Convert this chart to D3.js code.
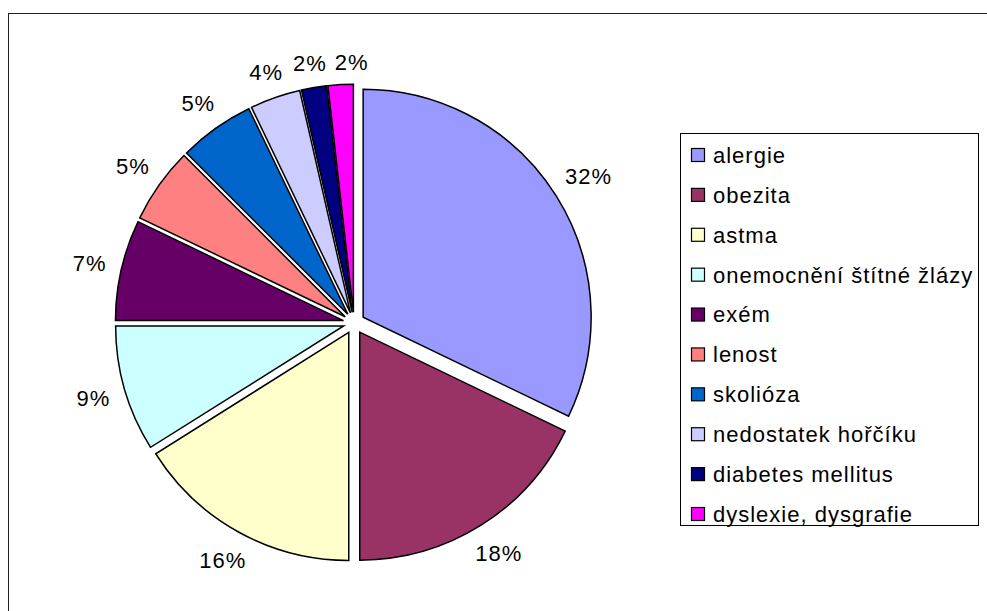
<!DOCTYPE html>
<html>
<head>
<meta charset="utf-8">
<script src="https://cdn.jsdelivr.net/npm/d3@7"></script>
<style>
  body { margin: 0; background: #fff; }
  text { font-family: "Liberation Sans", Arial, sans-serif; }
</style>
</head>
<body>
<div id="viz"></div>
<script>
// data (slice angles fit counts out of 56)
var categories = ["alergie", "obezita", "astma", "onemocnění štítné žlázy", "exém",
  "lenost", "skolióza", "nedostatek hořčíku", "diabetes mellitus", "dyslexie, dysgrafie"];
var values = [18, 10, 9, 5, 4, 3, 3, 2, 1, 1];
var colors = ["#9999FF", "#993366", "#FFFFCC", "#CCFFFF", "#660066",
  "#FF8080", "#0066CC", "#CCCCFF", "#000080", "#FF00FF"];

var width = 987, height = 611;
var cx = 354, cy = 323;
var radius = 228;
var explode = 10.8;
var labelGap = 14;

const svg = d3.select("#viz")
  .append("svg")
    .attr("width", width)
    .attr("height", height);

// outer frame (right and bottom run off the picture)
svg.append("rect")
  .attr("x", 8.5).attr("y", 13.5)
  .attr("width", 1000).attr("height", 700)
  .attr("fill", "none")
  .attr("stroke", "#222")
  .attr("stroke-width", 1);

var total = d3.sum(values);
var data = categories.map(function(c, i) { return {name: c, value: values[i], color: colors[i]}; });

const pie = d3.pie()
  .sort(null)
  .value(function(d) { return d.value; });

const arc = d3.arc().innerRadius(0).outerRadius(radius);

const g = svg.append("g")
  .attr("transform", `translate(${cx},${cy})`);

var arcs = pie(data);

function mid(d) { return (d.startAngle + d.endAngle) / 2; }

g.selectAll("path.slice")
  .data(arcs)
  .join("path")
    .attr("class", "slice")
    .attr("d", arc)
    .attr("fill", function(d) { return d.data.color; })
    .attr("stroke", "#000")
    .attr("stroke-width", 1.5)
    .attr("stroke-linejoin", "miter")
    .attr("transform", function(d) {
      var a = mid(d);
      return `translate(${explode * Math.sin(a)},${-explode * Math.cos(a)})`;
    });

// percent labels, placed just outside the slice, like Excel does
const labels = g.selectAll("text.pct")
  .data(arcs)
  .join("text")
    .attr("class", "pct")
    .attr("text-anchor", "middle")
    .attr("dy", "0.36em")
    .attr("font-size", 22)
    .attr("letter-spacing", 1)
    .attr("fill", "#000")
    .text(function(d) { return Math.round(d.value / total * 100) + "%"; });

var boxes = [];
labels.each(function(d) {
  var w = this.getComputedTextLength(), h = 16;
  var a = mid(d), s = Math.sin(a), c = Math.cos(a);
  var dist = radius + explode + labelGap + Math.abs(s) * w / 2 + Math.abs(c) * h / 2;
  var x = dist * s, y = -dist * c;
  var prev = boxes[boxes.length - 1];
  // push apart labels that would collide
  if (prev && Math.abs(y - prev.y) < h && Math.abs(x - prev.x) < (w + prev.w) / 2 + 8) {
    x = prev.x + (w + prev.w) / 2 + 8;
  }
  boxes.push({x: x, y: y, w: w});
  d3.select(this).attr("transform", `translate(${x},${y})`);
});

// legend
var legendX = 680, legendY = 133, legendW = 298, legendH = 392;
const legend = svg.append("g");
legend.append("rect")
  .attr("x", legendX + 0.5).attr("y", legendY + 0.5)
  .attr("width", legendW).attr("height", legendH)
  .attr("fill", "#fff")
  .attr("stroke", "#000")
  .attr("stroke-width", 1);

const rowY = d3.scalePoint()
  .domain(categories)
  .range([155, 514]);

const items = legend.selectAll("g.item")
  .data(data)
  .join("g")
    .attr("class", "item")
    .attr("transform", function(d) { return `translate(${legendX},${rowY(d.name)})`; });

items.append("rect")
  .attr("x", 11.5).attr("y", -6.5)
  .attr("width", 13).attr("height", 13)
  .attr("fill", function(d) { return d.color; })
  .attr("stroke", "#000")
  .attr("stroke-width", 1.2);

items.append("text")
  .attr("x", 33)
  .attr("dy", "0.36em")
  .attr("font-size", 22)
  .attr("letter-spacing", 1)
  .attr("fill", "#000")
  .text(function(d) { return d.name; });
</script>
</body>
</html>
